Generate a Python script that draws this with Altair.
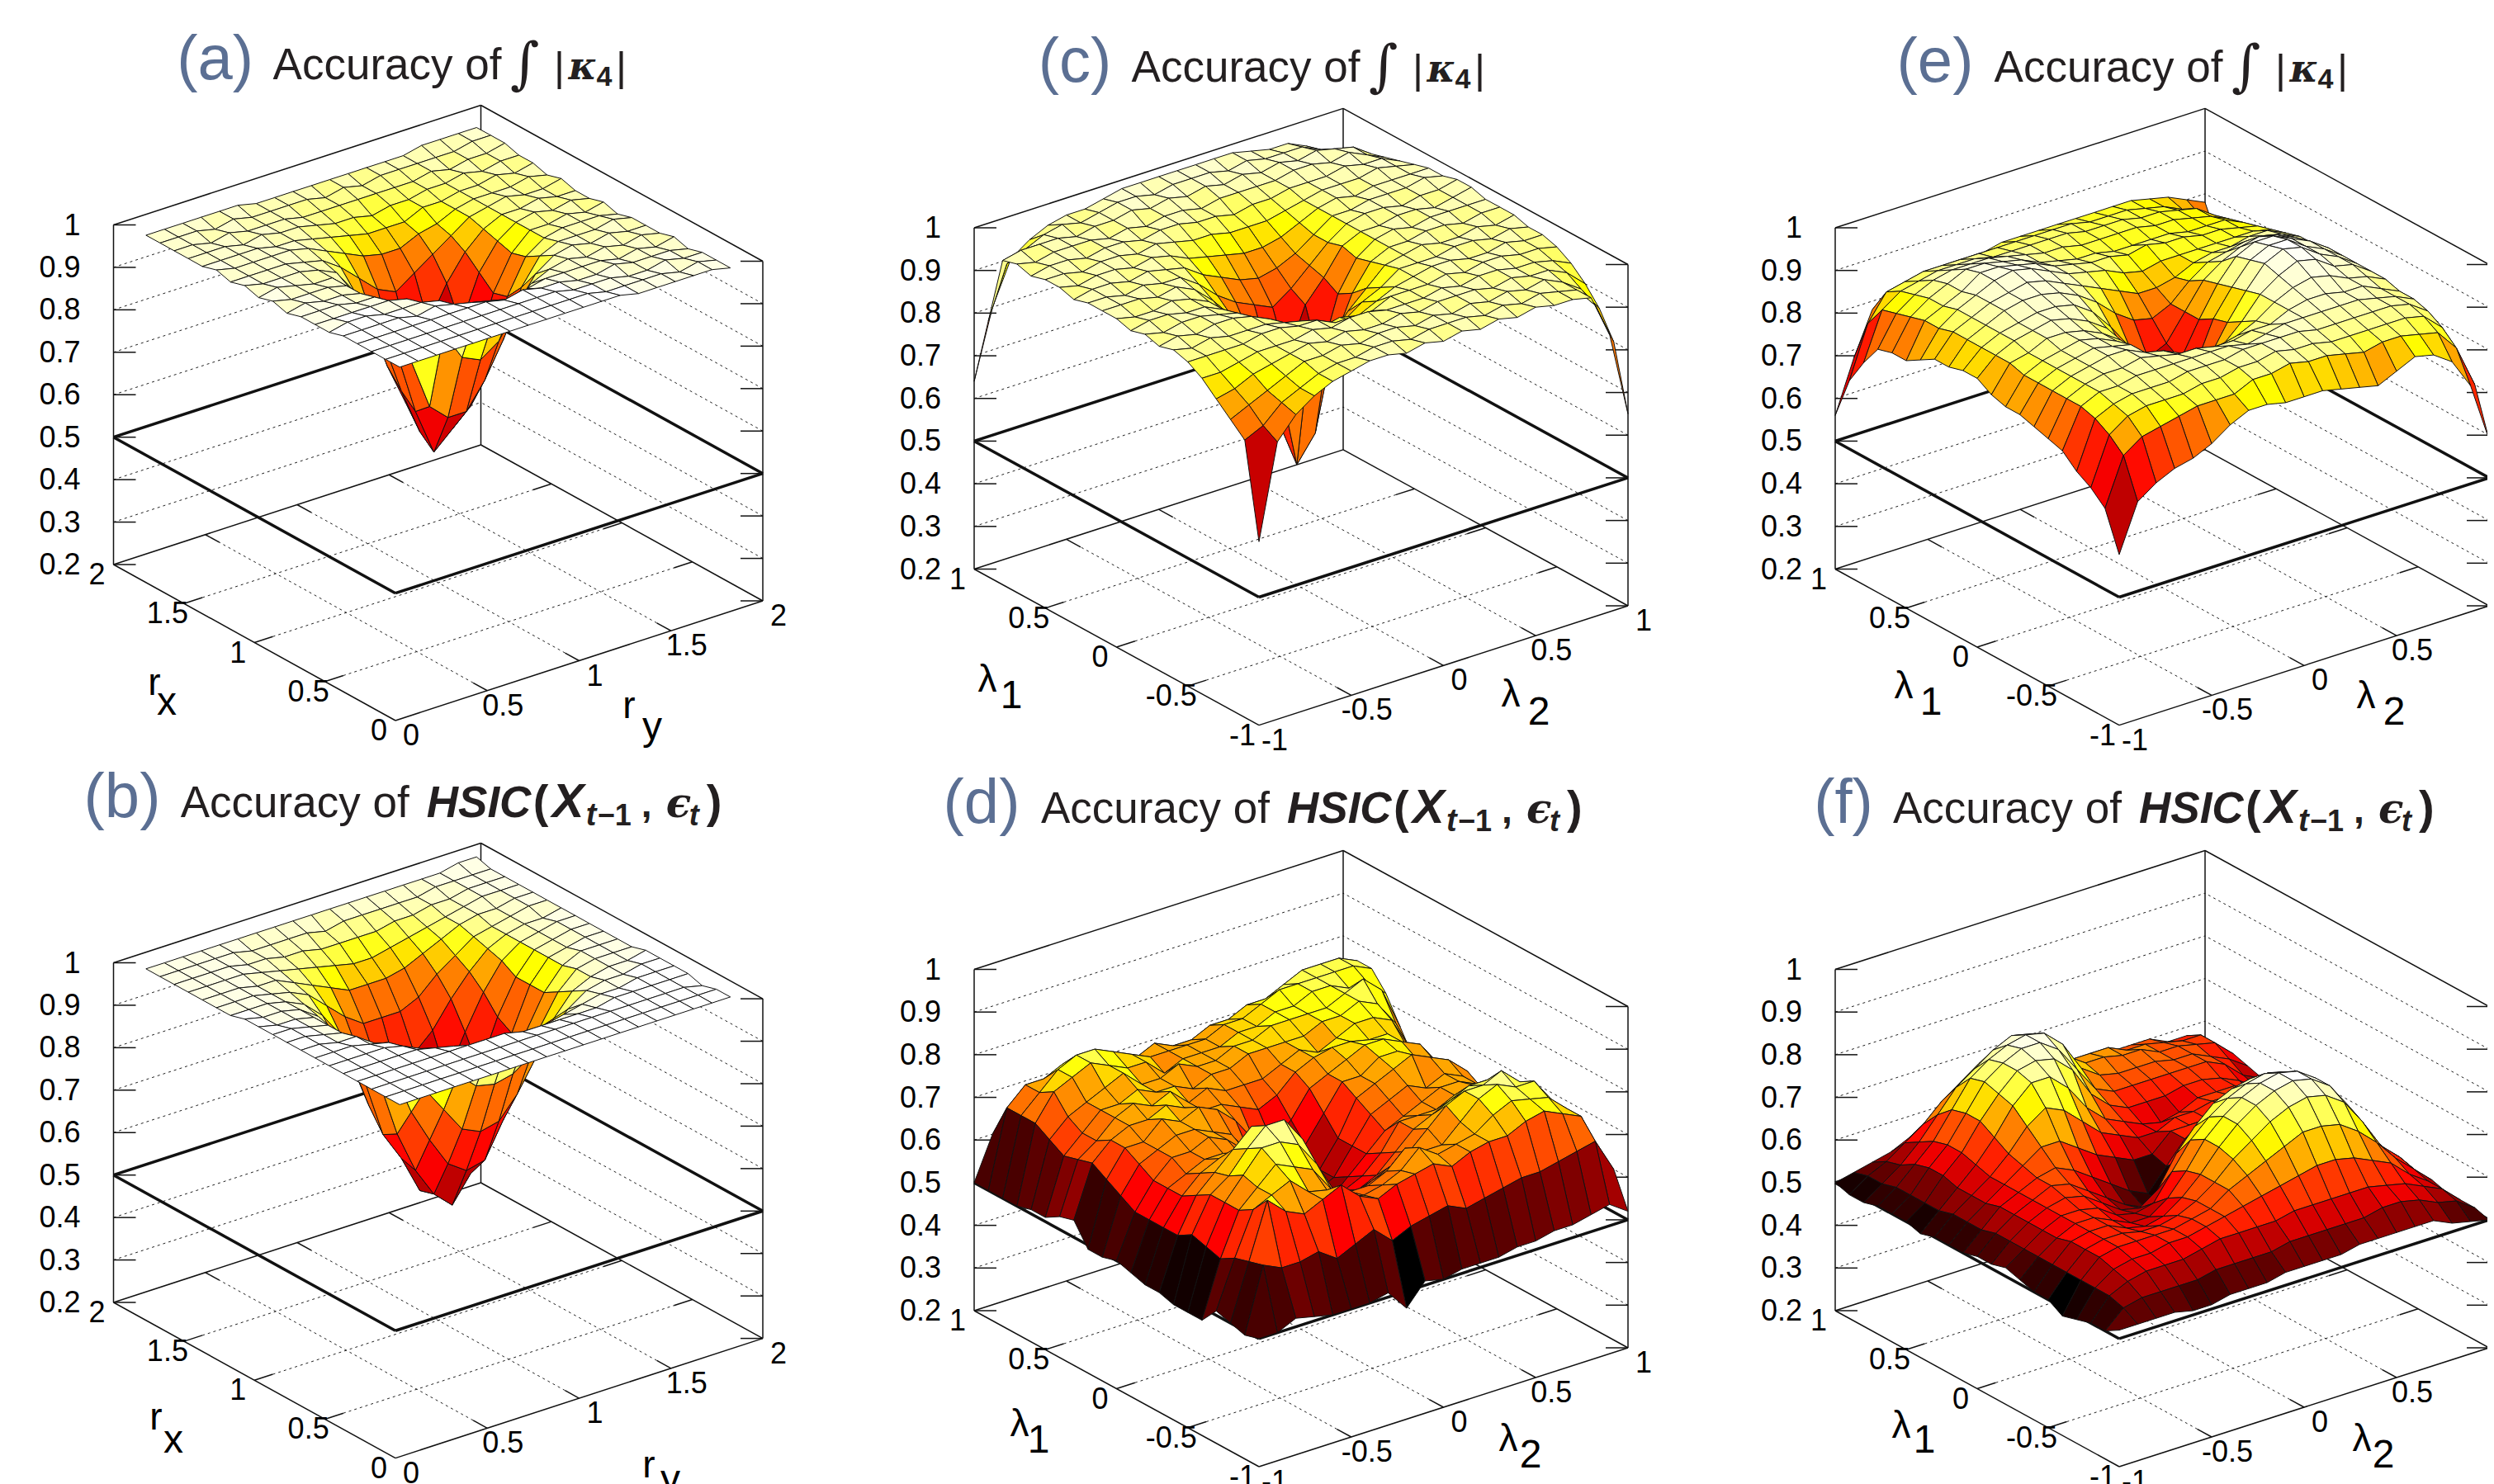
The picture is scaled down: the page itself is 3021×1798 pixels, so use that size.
import altair as alt
import pandas as pd

alt.data_transformers.disable_max_rows()

# accuracy values (percent), rows: first axis ascending, columns: second axis ascending
z_a = [
[100,100,100,100,100,100,100,100,100,100,100,100,100,99,99,99,99,99,98],
[100,100,100,100,100,100,100,100,100,100,100,100,99,99,99,99,98,99,98],
[100,100,100,100,100,100,100,100,100,100,100,99,99,99,98,98,99,98,98],
[100,100,100,100,100,100,100,100,99,100,99,99,98,98,99,98,98,98,97],
[100,100,100,100,99,100,99,98,97,96,97,98,98,98,98,97,98,97,98],
[99,100,100,99,99,99,98,95,92,90,91,95,97,98,97,98,97,98,97],
[99,99,99,99,99,98,93,87,80,78,81,88,94,97,98,97,98,97,97],
[99,99,99,98,98,95,80,68,64,64,70,78,89,95,97,97,97,98,97],
[98,99,98,98,97,93,80,65,54,58,62,72,85,93,96,97,97,97,96],
[99,98,98,98,97,92,81,68,57,58,60,70,84,92,96,96,97,96,97],
[98,99,98,97,97,93,84,72,62,58,64,76,87,93,96,97,96,97,96],
[99,98,98,98,97,95,89,81,74,72,76,84,90,94,96,96,97,96,96],
[98,98,98,98,97,96,93,89,85,83,86,89,92,95,96,97,96,96,97],
[99,98,98,98,98,97,95,93,91,90,90,92,93,95,96,96,96,97,96],
[98,98,98,98,97,97,96,95,94,93,93,93,95,95,96,96,97,96,97],
[98,98,98,97,98,97,97,96,95,95,94,95,95,96,96,97,96,97,97],
[98,98,97,98,97,97,97,96,96,96,96,96,96,96,97,96,97,97,98],
[98,98,98,97,98,97,97,97,97,96,97,96,97,97,97,97,97,98,98],
[98,98,98,98,98,98,97,97,97,97,97,97,97,97,97,98,98,98,98],
]
z_b = [
[100,100,100,100,100,100,100,100,100,100,100,100,100,100,100,100,100,100,100],
[100,100,100,100,100,100,100,100,100,100,100,100,100,100,100,100,100,100,100],
[100,100,100,100,100,100,100,100,100,100,100,100,100,100,100,100,100,100,99],
[100,100,100,100,100,100,100,100,100,99,99,99,99,99,100,100,100,100,100],
[100,100,100,100,100,99,98,96,95,95,95,96,97,98,99,99,100,100,100],
[100,100,100,100,99,97,92,88,84,83,84,87,91,95,98,99,99,100,100],
[100,100,100,99,98,93,84,78,72,70,71,76,83,91,96,98,99,99,100],
[100,100,99,99,96,88,77,69,62,59,60,68,77,87,94,98,99,99,99],
[100,100,99,98,94,84,70,60,53,49,55,62,72,84,92,97,99,99,99],
[100,100,99,98,93,82,68,61,52,55,58,60,68,82,92,97,98,99,99],
[100,99,99,98,94,85,73,64,57,57,60,64,73,84,92,97,98,99,99],
[100,99,99,98,95,88,79,70,66,63,65,71,80,88,94,97,98,99,99],
[99,99,99,98,96,92,86,80,76,74,76,80,86,91,95,97,98,98,99],
[99,99,99,98,97,95,91,87,84,84,84,86,90,93,96,97,98,99,99],
[99,99,99,98,98,96,94,92,90,90,90,91,93,95,97,98,98,99,99],
[99,99,99,99,98,97,96,95,94,93,93,94,95,96,97,98,99,99,99],
[99,99,99,99,98,98,97,97,96,96,96,96,97,97,98,98,99,99,99],
[99,99,99,99,99,98,98,98,98,97,98,98,98,98,98,99,99,99,99],
[99,99,99,99,99,99,99,99,99,99,99,99,99,99,99,99,99,100,100],
]
z_c = [
[63,85,90,93,95,96,97,97,96,97,96,97,96,97,96,97,96,96,95,85,65],
[85,87,91,93,95,96,96,97,97,96,97,97,97,96,97,96,97,96,95,90,80],
[88,90,92,94,96,96,97,96,97,97,96,97,96,97,96,97,96,97,95,92,86],
[91,92,94,95,96,97,96,97,96,96,97,96,97,97,97,96,97,96,96,94,90],
[94,94,95,96,96,96,97,96,97,97,96,96,96,97,96,97,97,96,96,95,93],
[96,96,96,96,97,97,96,96,94,93,94,96,96,96,97,96,97,97,96,96,95],
[97,96,97,96,96,96,95,94,91,92,91,93,95,96,97,97,96,96,97,96,96],
[96,97,96,97,97,96,94,91,88,87,88,91,93,96,96,96,97,97,96,97,96],
[97,96,97,97,96,95,92,87,85,84,82,87,91,95,96,97,96,96,97,96,97],
[96,97,97,96,96,94,90,85,74,52,58,78,88,94,96,96,97,97,96,97,97],
[97,96,96,97,96,94,89,84,70,58,62,72,86,93,96,97,96,97,97,97,97],
[97,97,97,96,97,95,91,86,80,74,72,83,88,94,96,96,97,97,96,97,98],
[97,97,96,97,96,96,93,89,86,84,82,85,89,93,96,97,97,96,97,97,98],
[96,97,97,96,97,96,95,92,90,88,87,88,90,93,96,96,97,97,97,98,97],
[97,96,97,97,96,97,96,94,93,92,91,91,92,94,96,97,96,97,97,97,97],
[97,97,96,97,97,96,97,96,95,95,94,94,94,95,96,97,97,97,98,97,96],
[96,97,97,96,97,97,96,97,97,96,96,95,96,96,97,97,97,98,97,97,95],
[97,96,97,97,97,96,97,96,97,97,96,97,97,97,97,98,98,97,98,96,94],
[96,97,97,97,96,97,97,98,97,98,97,98,97,98,97,98,97,98,97,96,93],
[80,92,94,96,97,96,97,98,98,97,98,98,98,97,98,97,97,97,95,92,88],
[64,80,90,93,95,96,96,97,98,98,98,98,98,98,98,97,96,96,94,90,70],
]
z_d = [
[50,50,52,51,50,50,50,51,46,51,50,51,51,51,52,52,53,53,54,55,52],
[49,64,62,62,63,60,62,64,60,62,63,64,62,63,64,65,65,66,67,68,60],
[50,63,76,72,70,72,74,70,68,70,71,72,70,72,73,73,75,76,74,72,62],
[51,62,72,74,76,72,71,68,67,68,70,74,71,72,73,76,78,77,76,72,60],
[47,60,70,74,78,76,74,68,66,66,68,72,70,70,74,78,80,78,78,72,58],
[47,61,70,75,80,80,78,72,64,62,64,66,68,72,76,78,78,80,76,70,60],
[47,62,70,73,78,82,82,76,66,60,60,62,66,70,72,74,76,76,74,68,58],
[48,60,68,72,76,80,78,72,64,58,58,60,64,70,70,70,72,73,72,68,60],
[48,60,66,70,72,72,70,68,60,56,54,58,62,66,68,70,72,72,70,66,60],
[49,60,66,68,70,70,68,64,60,56,54,56,62,68,70,72,70,72,70,66,58],
[50,60,66,70,70,72,70,66,60,54,52,56,62,70,72,74,76,74,72,68,60],
[49,62,68,70,72,72,70,68,62,58,56,60,66,72,72,75,75,72,70,66,60],
[49,64,70,70,74,72,74,72,68,62,60,64,70,72,74,76,76,74,72,66,58],
[54,66,70,72,72,74,72,70,70,68,66,68,72,74,75,75,74,74,70,64,56],
[53,65,68,72,74,72,74,70,72,70,70,70,72,74,72,74,76,76,74,66,58],
[51,64,68,72,72,74,72,72,70,72,72,74,74,74,74,76,76,78,76,70,60],
[51,66,70,72,74,76,72,72,74,72,72,74,74,76,76,76,76,78,80,76,66],
[50,68,74,76,78,76,74,74,70,72,72,72,74,74,76,76,78,78,76,76,72],
[50,68,72,76,78,78,76,74,72,72,72,72,74,74,76,78,78,78,78,78,76],
[50,68,72,72,74,72,72,70,70,72,70,70,72,72,74,74,76,78,78,78,76],
[50,60,62,62,62,60,60,60,60,62,62,62,64,64,64,66,68,70,72,74,73],
]
z_e = [
[60,71,74,76,77,79,82,84,84,83,83,83,82,81,80,82,84,83,80,73,59],
[69,80,83,84,85,86,86,86,88,88,89,88,88,87,86,87,87,86,85,80,70],
[72,83,86,87,87,87,88,88,89,89,90,89,89,88,88,88,88,88,87,83,74],
[74,85,87,88,88,88,89,89,89,90,90,90,90,89,89,89,89,89,88,85,76],
[77,86,88,88,89,89,89,89,89,89,88,89,90,90,90,90,90,89,88,86,78],
[78,86,88,89,89,90,89,88,88,87,87,88,88,90,91,91,90,90,88,86,79],
[79,86,88,89,90,90,88,87,85,84,84,85,87,90,92,93,92,90,89,87,80],
[80,86,88,89,90,89,88,84,81,80,79,81,85,90,93,95,94,91,90,87,80],
[80,86,88,89,90,89,87,84,78,75,74,76,83,89,94,96,95,92,90,87,81],
[81,87,88,90,90,89,87,84,76,71,68,72,82,88,93,95,95,92,90,87,80],
[83,87,89,90,91,90,88,85,78,70,62,72,80,87,92,94,94,92,90,87,80],
[83,87,89,90,91,91,90,87,82,76,72,74,80,86,89,91,92,91,89,86,79],
[82,87,89,91,92,92,91,89,86,82,79,78,80,84,87,88,89,89,88,86,78],
[82,87,89,91,92,93,92,90,88,86,84,82,82,83,85,86,86,87,87,85,78],
[80,86,89,91,93,94,93,91,89,88,87,85,84,85,85,85,85,85,85,84,77],
[78,86,88,90,93,93,92,91,89,88,87,87,86,87,86,86,85,85,84,83,76],
[78,85,88,90,92,92,91,90,88,87,86,86,85,85,85,85,84,84,84,82,75],
[77,84,87,89,90,90,90,89,88,87,87,86,86,86,86,85,85,84,83,81,74],
[72,83,86,87,88,88,88,87,87,87,87,87,86,86,86,85,85,84,83,80,72],
[66,78,84,85,86,86,86,86,86,86,86,86,86,85,85,85,84,83,81,78,70],
[56,68,78,80,81,82,83,83,83,84,84,84,84,84,84,84,84,83,82,80,78],
]
z_f = [
[52,52,52,52,51,51,52,52,52,53,53,53,53,54,54,54,54,54,52,51,50],
[50,54,55,55,55,55,56,56,56,56,57,57,57,57,57,58,58,57,55,54,51],
[50,55,57,58,58,58,59,60,60,60,60,61,61,61,61,61,60,59,57,55,51],
[49,55,58,59,59,60,60,61,62,63,64,65,66,67,67,66,64,62,58,55,51],
[48,55,59,60,60,60,60,61,62,65,67,69,71,73,73,72,69,65,60,56,52],
[50,55,59,60,60,59,59,60,62,65,69,72,75,77,78,77,74,68,61,57,52],
[50,55,59,60,60,58,57,58,61,65,70,74,77,79,80,79,76,70,62,57,52],
[51,55,58,60,60,58,56,56,59,64,70,74,77,79,80,79,76,70,63,58,53],
[52,55,58,60,60,59,56,55,56,62,68,72,75,77,78,77,74,69,63,58,53],
[51,55,58,60,61,60,57,54,53,56,63,68,72,74,75,75,72,68,62,58,53],
[51,55,58,60,62,61,58,55,52,50,49,58,64,69,71,72,70,66,62,57,53],
[50,54,58,60,62,63,61,58,55,52,50,55,60,63,66,68,68,65,60,56,52],
[50,54,57,60,63,66,66,63,60,58,56,56,60,60,60,62,63,62,59,55,52],
[50,54,57,60,64,69,72,70,66,62,60,58,58,60,60,61,61,60,57,54,52],
[49,53,57,61,66,72,76,76,72,66,62,60,58,57,58,60,60,60,57,54,52],
[50,53,58,62,68,73,77,78,77,73,66,62,60,60,60,61,61,60,58,55,52],
[50,53,58,62,68,74,77,79,79,76,70,64,62,62,62,62,62,62,60,56,54],
[50,53,57,61,67,73,76,78,79,78,74,67,64,63,63,63,62,62,60,58,55],
[49,52,55,59,64,69,72,75,77,76,72,68,65,65,64,64,62,62,61,60,56],
[49,52,54,57,60,64,67,70,71,71,69,66,64,64,64,62,62,61,60,60,56],
[50,51,52,53,55,57,60,62,63,64,63,62,60,60,60,60,60,60,58,58,56],
]

tall_stops = [(.48,.20),(.55,.22),(.62,.25),(.72,.36),(.80,.44),(.86,.50),(.90,.60),(.93,.70),(.95,.80),(.97,.90),(1.0,1.0)]
e_stops = [(.50,.20),(.60,.25),(.70,.33),(.75,.42),(.80,.55),(.83,.62),(.86,.75),(.88,.85),(.90,.92),(.96,1.0)]
d_stops = [(.46,.0),(.62,.38),(.72,.55),(.76,.68),(.80,.85),(.83,1.0)]
f_stops = [(.48,.0),(.80,1.0)]

r_ticks = ["0", "0.5", "1", "1.5", "2"]
l_ticks = ["-1", "-0.5", "0", "0.5", "1"]
z_ticks = ["0.2", "0.3", "0.4", "0.5", "0.6", "0.7", "0.8", "0.9", "1"]

panels = [
 dict(k="a", z=z_a, st=tall_stops, L=(137.5,684), B=(479,873), R=(924,728), H=411.5, lo=.05, hi=.95, tk=r_ticks,
      start=330.6, base=96, lab=260.6, kind=0, xt=("r","x",187,842,202,866), yt=("r","y",762,870,790,896)),
 dict(k="b", z=z_b, st=tall_stops, L=(137.5,1578), B=(479,1766.6), R=(924,1621.6), H=411.5, lo=.05, hi=.95, tk=r_ticks,
      start=218.75, base=990, lab=148, kind=1, xt=("r","x",189,1732,210,1760), yt=("r","y",786,1790,812,1808)),
 dict(k="c", z=z_c, st=tall_stops, L=(1180,689.5), B=(1525,878.6), R=(1972,734), H=413.5, lo=0, hi=1, tk=l_ticks,
      start=1370.6, base=98.6, lab=1302, kind=0, xt=("λ","1",1196,838,1225,858), yt=("λ","2",1830,856,1864,878)),
 dict(k="d", z=z_d, st=d_stops, L=(1180,1588), B=(1525,1777), R=(1972,1633), H=413.5, lo=0, hi=1, tk=l_ticks,
      start=1261, base=996.7, lab=1189, kind=1, xt=("λ","1",1235,1740,1258,1760), yt=("λ","2",1827,1758,1854,1778)),
 dict(k="e", z=z_e, st=e_stops, L=(2223,689.5), B=(2567,878.6), R=(3015,734), H=413.5, lo=0, hi=1, tk=l_ticks,
      start=2415.6, base=98.6, lab=2344, kind=0, xt=("λ","1",2306,846,2339,866), yt=("λ","2",2866,858,2900,878)),
 dict(k="f", z=z_f, st=f_stops, L=(2223,1588), B=(2567,1777), R=(3015,1633), H=413.5, lo=0, hi=1, tk=l_ticks,
      start=2293, base=996.7, lab=2233, kind=1, xt=("λ","1",2303,1742,2331,1760), yt=("λ","2",2861,1758,2887,1778)),
]


def hot(x):
    x = max(0.0, min(1.0, x))
    c = [min(1, 3*x), max(0, min(1, 3*x-1)), max(0, min(1, 3*x-2))]
    return "#%02x%02x%02x" % tuple(round(v*255) for v in c)


def palette(z, stops):
    if z <= stops[0][0]:
        return hot(stops[0][1])
    for (a, u), (b, v) in zip(stops, stops[1:]):
        if z <= b:
            return hot(u + (v-u)*(z-a)/(b-a))
    return hot(stops[-1][1])


def project(p, a, b, z):
    Lx, Ly = p["L"]; Bx, By = p["B"]; Rx, Ry = p["R"]
    return (Bx + a*(Lx-Bx) + b*(Rx-Bx),
            By + a*(Ly-By) + b*(Ry-By) - (z-.2)/.8*p["H"])


quads, lines, texts = [], [], []
REG = ("Liberation Sans", "normal", "normal")
BI = ("Liberation Sans", "bold", "italic")
BOLD = ("Liberation Sans", "bold", "normal")
MATH = ("DejaVu Serif", "bold", "italic")
TCOL, LCOL = "#231f20", "#5b6f93"


def seg(p, q, w=1.5, dash=0):
    lines.append(dict(x=p[0], y=p[1], x2=q[0], y2=q[1], w=w, dash=dash))


def txt(s, x, y, size, style=REG, align="left", col="#000000", base="alphabetic"):
    texts.append(dict(t=s, x=x, y=y, size=size, style=style, align=align, col=col, base=base))


for p in panels:
    P = lambda a, b, z: project(p, a, b, z)
    # frame
    for q0, q1 in [((1,0),(0,0)), ((0,0),(0,1)), ((1,0),(1,1)), ((1,1),(0,1))]:
        seg(P(*q0,.2), P(*q1,.2))
        seg(P(*q0,.5), P(*q1,.5), w=3.5)
    seg(P(1,0,1), P(1,1,1)); seg(P(1,1,1), P(0,1,1))
    for c in [(1,0),(0,1),(1,1)]:
        seg(P(*c,.2), P(*c,1))
    # z ticks and grid
    for k, lab in enumerate(z_ticks):
        zv = .2 + k*.1
        lp, rp, bp = P(1,0,zv), P(0,1,zv), P(1,1,zv)
        seg(lp, (lp[0]+27, lp[1])); seg(rp, (rp[0]-27, rp[1]))
        if 0 < k < 8:
            seg(lp, bp, w=1, dash=1); seg(rp, bp, w=1, dash=1)
        txt(lab, lp[0]-40, lp[1]+12, 36, align="right")
    # floor ticks and grid
    n_t = p["tk"]
    for k, lab in enumerate(n_t):
        f = k/4
        if 0 < k < 4:
            seg(P(f,0,.2), P(f,.05,.2)); seg(P(f,1,.2), P(f,.95,.2))
            seg(P(0,f,.2), P(.05,f,.2)); seg(P(1,f,.2), P(.95,f,.2))
            seg(P(f,.05,.2), P(f,.95,.2), w=1, dash=1)
            seg(P(.05,f,.2), P(.95,f,.2), w=1, dash=1)
        e1 = P(f,0,.2); e2 = P(0,f,.2)
        txt(lab, e1[0]-20, e1[1]+24, 36, align="center")
        txt(lab, e2[0]+19, e2[1]+30, 36, align="center")
    # surface
    Z = p["z"]; n = len(Z)
    t = lambda i: p["lo"] + (p["hi"]-p["lo"])*i/(n-1)
    for i in range(n-2, -1, -1):
        for j in range(n-2, -1, -1):
            col = palette(Z[i][j]/100, p["st"])
            key = f'{p["k"]}{i:02d}{j:02d}'
            for o, (a, b) in enumerate([(i,j),(i+1,j),(i+1,j+1),(i,j+1),(i,j)]):
                px, py = P(t(a), t(b), Z[a][b]/100)
                quads.append(dict(q=key, o=o, x=round(px,1), y=round(py,1), c=col))
    # axis titles
    for lab in (p["xt"], p["yt"]):
        txt(lab[0], lab[2], lab[3], 46, align="center")
        txt(lab[1], lab[4], lab[5], 48, align="center")
    # panel title
    s, b0 = p["start"], p["base"]
    txt("("+p["k"]+")", p["lab"], b0, 76, align="center", col=LCOL)
    txt("Accuracy of", s, b0, 53, col=TCOL)
    if p["kind"] == 0:
        txt("∫", s+305, b0+4, 68, style=("DejaVu Serif","normal","italic"), align="center", col=TCOL)
        txt("|", s+347, b0+2, 50, align="center", col=TCOL)
        txt("κ", s+358, b0, 46, style=MATH, col=TCOL)
        txt("4", s+392, b0+8, 34, style=BOLD, col=TCOL)
        txt("|", s+422, b0+2, 50, align="center", col=TCOL)
    else:
        txt("HSIC", s+298, b0, 53, style=BI, col=TCOL)
        txt("(", s+427, b0, 56, style=BOLD, col=TCOL)
        txt("X", s+450, b0, 58, style=BI, col=TCOL)
        txt("t", s+491, b0+10, 38, style=BI, col=TCOL)
        txt("−1", s+505, b0+10, 36, style=BOLD, col=TCOL)
        txt(",", s+558, b0, 46, style=BOLD, col=TCOL)
        txt("ϵ", s+588, b0, 50, style=MATH, col=TCOL)
        txt("t", s+616, b0+10, 36, style=BI, col=TCOL)
        txt(")", s+637, b0, 56, style=BOLD, col=TCOL)

XS = alt.Scale(domain=[8, 3013], nice=False, zero=False)
YS = alt.Scale(domain=[1790, 8], nice=False, zero=False)
X = lambda f="x": alt.X(f, type="quantitative", scale=XS, axis=None)
Y = lambda f="y": alt.Y(f, type="quantitative", scale=YS, axis=None)

layers = []
ldf = pd.DataFrame(lines)
for (w, dash), g in ldf.groupby(["w", "dash"]):
    kw = dict(strokeDash=[3, 4]) if dash else {}
    col = "#222222" if dash else "#111111"
    layers.append(alt.Chart(g).mark_rule(strokeWidth=float(w), color=col, **kw).encode(
        x=X(), y=Y(), x2="x2", y2="y2"))

layers.append(alt.Chart(pd.DataFrame(quads)).mark_line(
    filled=True, stroke="#111111", strokeWidth=1, strokeJoin="round", interpolate="linear"
).encode(x=X(), y=Y(), detail="q:N", order="o:Q",
         fill=alt.Fill("c:N", scale=None, legend=None)))

tdf = pd.DataFrame(texts)
for (style, align, size, col, base), g in tdf.groupby(["style", "align", "size", "col", "base"]):
    layers.append(alt.Chart(g).mark_text(
        font=style[0], fontWeight=style[1], fontStyle=style[2], fontSize=float(size),
        align=align, baseline=base, color=col
    ).encode(x=X(), y=Y(), text="t:N"))

chart = alt.layer(*layers).properties(
    width=3005, height=1782, background="white",
    padding={"left": 0, "top": 0, "right": 0, "bottom": 8},
    autosize=alt.AutoSizeParams(type="none"),
).configure_view(strokeWidth=0)

chart.save("out.html", embed_options={"renderer": "svg", "actions": False})
